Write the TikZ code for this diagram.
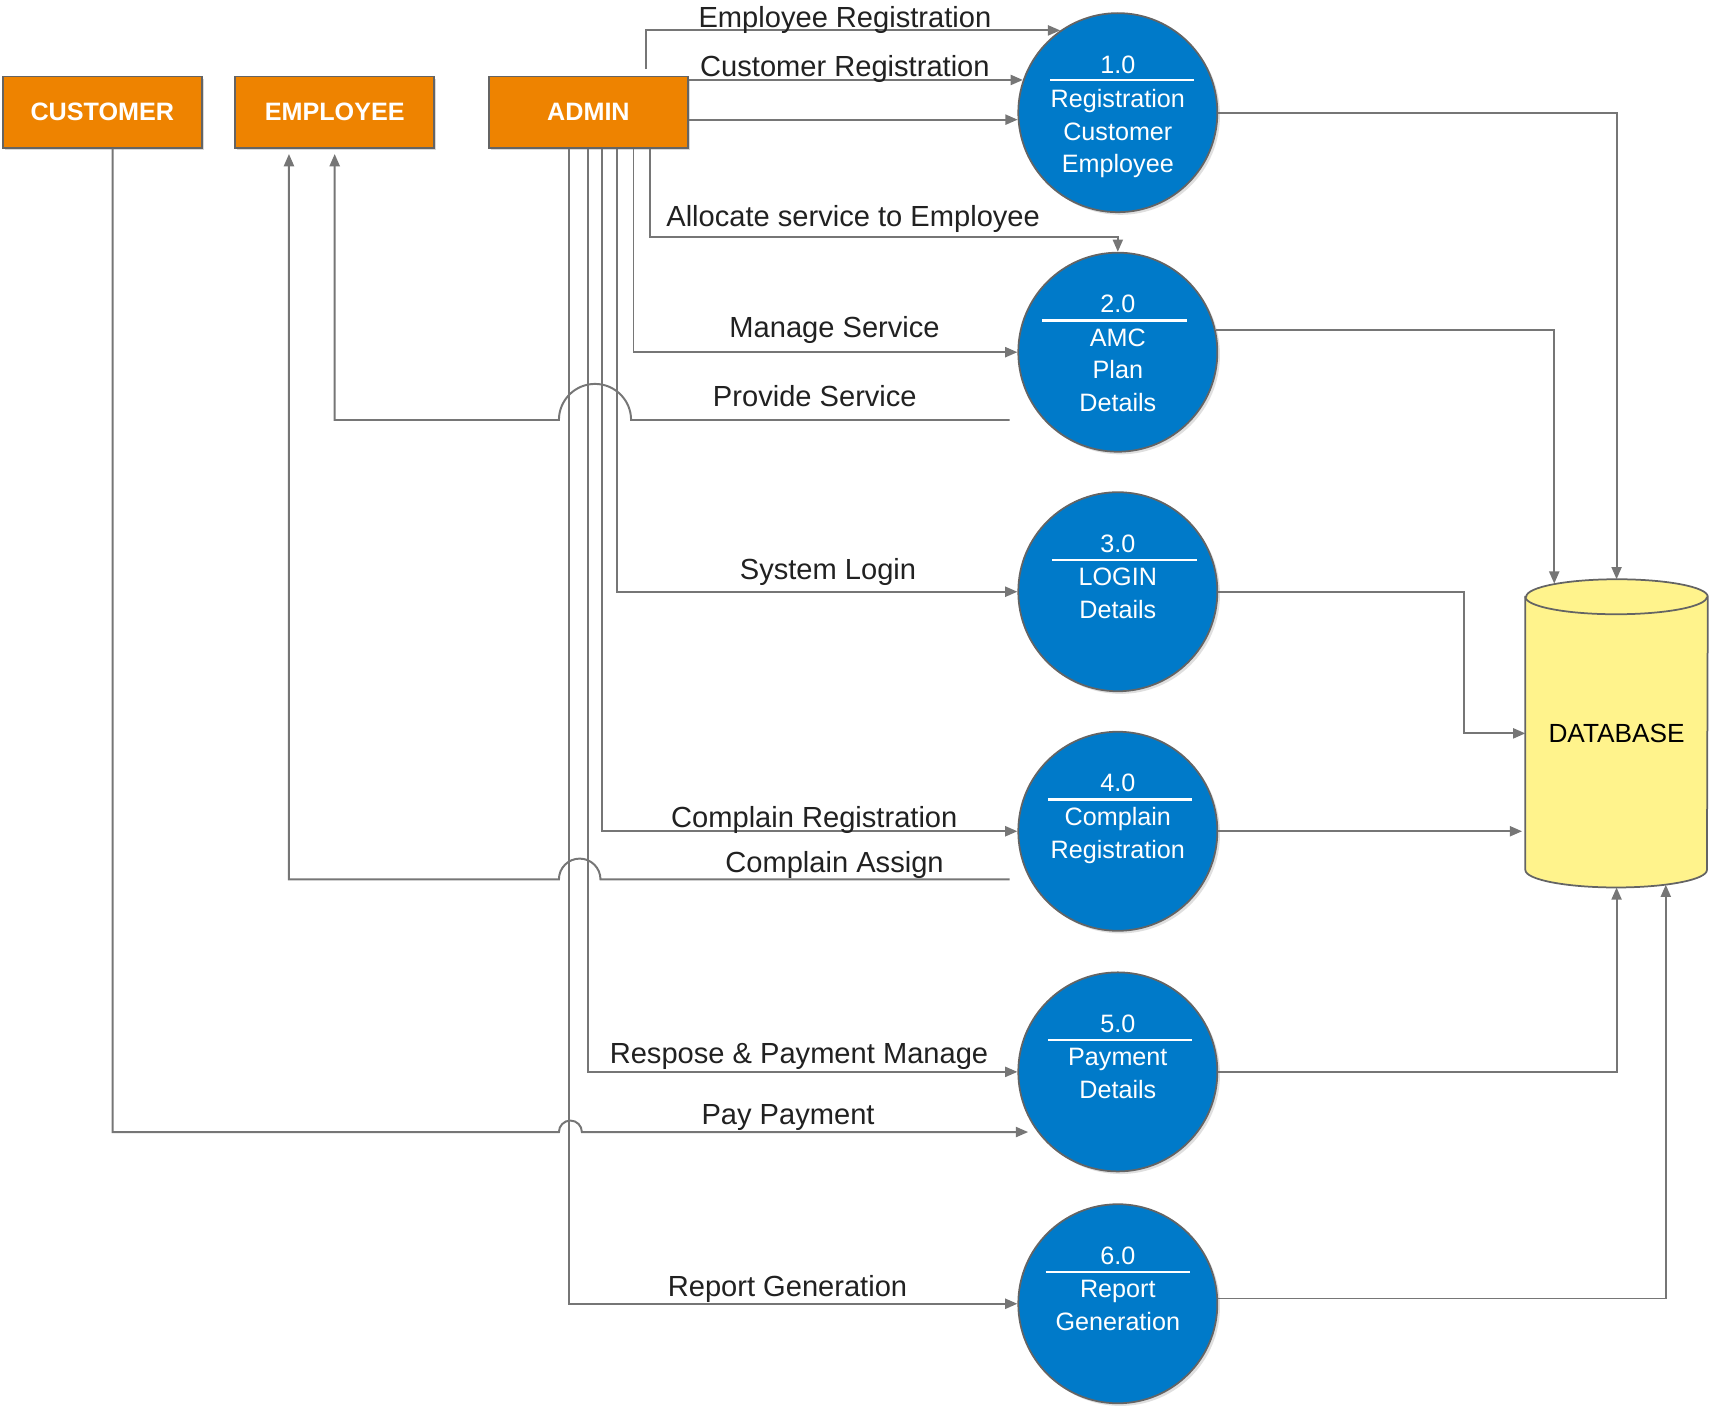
\documentclass[tikz,border=0pt]{standalone}
\usepackage{fontspec}
\setmainfont{Liberation Sans}
\usetikzlibrary{arrows.meta}
\usetikzlibrary{backgrounds}
\usetikzlibrary{calc}
\usetikzlibrary{shadows}

\definecolor{extorange}{RGB}{238,131,0}
\definecolor{procblue}{RGB}{0,122,201}
\definecolor{dbyellow}{RGB}{255,243,140}
\definecolor{linegray}{RGB}{118,118,118}
\definecolor{edgegray}{RGB}{100,100,100}

\begin{document}
\begin{tikzpicture}[x=0.5pt,y=-0.5pt,
	ext/.style={rectangle, draw=edgegray, line width=0.8pt, fill=extorange, minimum width=91pt, minimum height=32.5pt, text=white, font=\fontsize{11.5}{14}\selectfont\bfseries, drop shadow={shadow xshift=1pt, shadow yshift=-1pt, fill=black!30, opacity=0.5}},
	proc/.style={circle, draw=edgegray, line width=0.8pt, fill=procblue, minimum size=91pt, inner sep=0pt, drop shadow={shadow xshift=1.2pt, shadow yshift=-1.2pt, fill=black!25, opacity=0.5}},
	num/.style={text=white, font=\fontsize{11.5}{15}\selectfont, anchor=base, inner sep=0pt},
	ptxt/.style={text=white, font=\fontsize{11.5}{15}\selectfont, align=center, anchor=north, inner sep=0pt},
	bar/.style={draw=white, line width=1.2pt},
	flow/.style={draw=linegray, line width=0.9pt, -{Triangle[length=5.6pt,width=4.6pt]}},
	lbl/.style={font=\fontsize{13.3}{16}\selectfont, text=black!87, anchor=base, inner sep=0pt},
	dbnode/.style={minimum width=83pt, minimum height=140.5pt, inner sep=0pt, font=\fontsize{12}{14}\selectfont}]
	
	\useasboundingbox (0,0) rectangle (1568,1290);
	
	% external entities
	\node[ext] (customer) at (93.5,102.5) {CUSTOMER};
	\node[ext] (employee) at (306,102.5) {EMPLOYEE};
	\node[ext] (admin) at (538,102.5) {ADMIN};
	
	% processes
	\node[proc] (p1) at (1022,103) {};
	\node[num] at ($(p1)+(0,-36)$) {1.0};
	\draw[bar] ($(p1)+(-62,-30)$) -- ($(p1)+(70,-30)$);
	\node[ptxt] at ($(p1)+(0,-22)$) {Registration\\Customer\\Employee};
	
	\node[proc] (p2) at (1022,322) {};
	\node[num] at ($(p2)+(0,-36)$) {2.0};
	\draw[bar] ($(p2)+(-69,-29)$) -- ($(p2)+(63,-29)$);
	\node[ptxt] at ($(p2)+(0,-22)$) {AMC\\Plan\\Details};
	
	\node[proc] (p3) at (1022,541) {};
	\node[num] at ($(p3)+(0,-36)$) {3.0};
	\draw[bar] ($(p3)+(-60,-29)$) -- ($(p3)+(72,-29)$);
	\node[ptxt] at ($(p3)+(0,-22)$) {LOGIN\\Details};
	
	\node[proc] (p4) at (1022,760) {};
	\node[num] at ($(p4)+(0,-36)$) {4.0};
	\draw[bar] ($(p4)+(-64,-29)$) -- ($(p4)+(68,-29)$);
	\node[ptxt] at ($(p4)+(0,-22)$) {Complain\\Registration};
	
	\node[proc] (p5) at (1022,980) {};
	\node[num] at ($(p5)+(0,-36)$) {5.0};
	\draw[bar] ($(p5)+(-64,-29)$) -- ($(p5)+(68,-29)$);
	\node[ptxt] at ($(p5)+(0,-22)$) {Payment\\Details};
	
	\node[proc] (p6) at (1022,1192) {};
	\node[num] at ($(p6)+(0,-36)$) {6.0};
	\draw[bar] ($(p6)+(-66,-29)$) -- ($(p6)+(66,-29)$);
	\node[ptxt] at ($(p6)+(0,-22)$) {Report\\Generation};
	
	% data store
	\node[dbnode] (db) at (1478,670.5) {DATABASE};
	\begin{scope}[on background layer]
		\path[draw=edgegray, line width=0.8pt, fill=dbyellow] ($(db.north west)+(0,16)$) -- ($(db.south west)+(0,-16)$) arc[start angle=180, end angle=360, x radius=41.5pt, y radius=8pt] -- ($(db.north east)+(0,16)$) arc[start angle=0, end angle=180, x radius=41.5pt, y radius=8pt] -- cycle;
		\draw[edgegray, line width=0.8pt] ($(db.north west)+(0,16)$) arc[start angle=180, end angle=360, x radius=41.5pt, y radius=8pt];
	\end{scope}
	
	% admin flows
	\draw[flow] ($(admin.north west)+(144,-6)$) |- (p1.125);
	\draw[flow] (admin.east |- p1.161) -- (p1.161);
	\draw[flow] (admin.east |- p1.184) -- (p1.184);
	\draw[flow] ($(admin.south west)+(148,0)$) -- ++(0,81) -| (p2.north);
	\draw[flow] ($(admin.south west)+(133,0)$) |- (p2.west);
	\draw[flow] ($(admin.south west)+(118,0)$) |- (p3.west);
	\draw[flow] ($(admin.south west)+(104,0)$) |- (p4.west);
	\draw[flow] ($(admin.south west)+(91,0)$) |- (p5.west);
	\draw[flow] ($(admin.south west)+(74,0)$) |- (p6.west);
	
	% flows back to employee
	\coordinate (ps) at ($(p2.center)+(-99,62)$);
	\draw[flow, shorten >=2.5pt] (ps) -- ++(-346,0) arc[start angle=0, end angle=180, radius=16.5pt] -- (employee.south |- ps) -- (employee.south);
	\coordinate (ca) at ($(p4.center)+(-99,44)$);
	\coordinate (ea) at ($(employee.south west)+(50,0)$);
	\draw[flow, shorten >=2.5pt] (ca) -- ++(-374,0) arc[start angle=0, end angle=180, radius=9.5pt] -- (ea |- ca) -- (ea);
	
	% customer payment
	\coordinate (cs) at ($(customer.south)+(9.5,0)$);
	\coordinate (pp) at ($(p5.center)+(-82,55)$);
	\draw[flow] (cs) -- (cs |- pp) -- ++(408,0) arc[start angle=180, end angle=0, radius=5.25pt] -- (pp);
	
	% to database
	\draw[flow] (p1.east) -| (db.north);
	\draw[flow] (p2.13) -| ($(db.north)+(-57,4)$);
	\draw[flow] (p3.east) -- ++(225,0) |- (db.west);
	\draw[flow] (p4.east) -- ($(p4.east -| db.west)+(-3,0)$);
	\draw[flow] (p5.east) -| (db.south);
	\draw[flow] (p6.3) -| ($(db.south)+(45,-2.5)$);
	
	% labels
	\node[lbl] (lER) at (772.5,25) {Employee Registration};
	\node[lbl] (lCR) at (772.5,70) {Customer Registration};
	\node[lbl] (lAS) at (780,207.5) {Allocate service to Employee};
	\node[lbl] (lMS) at (763,309) {Manage Service};
	\node[lbl] (lPS) at (745,372) {Provide Service};
	\node[lbl] (lSL) at (757,530) {System Login};
	\node[lbl] (lCG) at (744.5,757) {Complain Registration};
	\node[lbl] (lCA) at (763,798) {Complain Assign};
	\node[lbl] (lRP) at (730.5,972.5) {Respose \& Payment Manage};
	\node[lbl] (lPP) at (720.5,1028) {Pay Payment};
	\node[lbl] (lRG) at (720,1185) {Report Generation};
\end{tikzpicture}
\end{document}
